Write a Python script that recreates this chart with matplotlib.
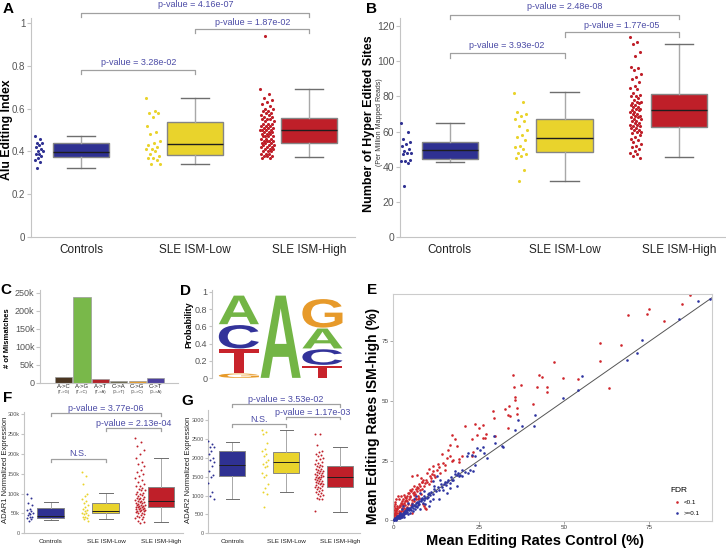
import numpy as np
import matplotlib
matplotlib.use("Agg")
import matplotlib.pyplot as plt
from matplotlib.textpath import TextPath
from matplotlib.patches import PathPatch
from matplotlib.font_manager import FontProperties
from matplotlib.transforms import Affine2D

plt.rcParams['font.family'] = ['Liberation Sans', 'DejaVu Sans']
NARROW = ['Liberation Sans Narrow', 'Liberation Sans', 'DejaVu Sans']

# ---------------- data ----------------
groups = ['Controls', 'SLE ISM-Low', 'SLE ISM-High']

# A: Alu editing index
A_whislo = [0.32, 0.34, 0.373]
A_q1 = [0.373, 0.383, 0.44]
A_med = [0.397, 0.435, 0.50]
A_q3 = [0.44, 0.537, 0.557]
A_whishi = [0.47, 0.65, 0.69]
A_ctrl = [0.47, 0.46, 0.44, 0.44, 0.43, 0.42, 0.41, 0.40, 0.40, 0.39, 0.39, 0.38, 0.37, 0.36, 0.35, 0.32]
A_low = [0.65, 0.59, 0.58, 0.58, 0.56, 0.52, 0.49, 0.48, 0.45, 0.44, 0.43, 0.42, 0.41, 0.41,
         0.40, 0.39, 0.38, 0.37, 0.37, 0.36, 0.34, 0.34]
A_high = [0.69, 0.67, 0.65, 0.64, 0.63, 0.62, 0.61, 0.60, 0.60, 0.59, 0.59, 0.58, 0.58, 0.57,
          0.57, 0.56, 0.56, 0.55, 0.55, 0.55, 0.54, 0.54, 0.53, 0.53, 0.53, 0.52, 0.52, 0.52,
          0.51, 0.51, 0.51, 0.50, 0.50, 0.50, 0.50, 0.49, 0.49, 0.49, 0.48, 0.48, 0.48, 0.47,
          0.47, 0.47, 0.47, 0.46, 0.46, 0.46, 0.45, 0.45, 0.45, 0.45, 0.44, 0.44, 0.44, 0.43,
          0.43, 0.43, 0.42, 0.42, 0.42, 0.41, 0.41, 0.41, 0.40, 0.40, 0.40, 0.39, 0.39, 0.39,
          0.38, 0.38, 0.38, 0.37, 0.37, 0.94]

# B: hyper edited sites
B_whislo = [42.8, 32.0, 45.7]
B_q1 = [44.4, 48.2, 62.7]
B_med = [49.7, 56.3, 72.0]
B_q3 = [54.2, 67.1, 81.3]
B_whishi = [65.0, 82.3, 109.6]
B_ctrl = [65, 60, 56, 54, 53, 52, 50, 49, 48, 48, 47, 44, 43, 43, 42, 29]
B_low = [82, 77, 71, 70, 69, 67, 66, 63, 61, 58, 57, 55, 52, 51, 50, 48, 47, 46, 45, 38, 32]
B_high = [114, 111, 110, 105, 103, 97, 96, 95, 93, 91, 90, 88, 86, 85, 84, 82, 81, 80, 80, 79,
          78, 77, 77, 76, 76, 75, 75, 74, 74, 73, 73, 72, 72, 71, 71, 70, 70, 69, 69, 68, 68,
          67, 67, 66, 66, 65, 65, 64, 64, 63, 63, 62, 62, 61, 61, 60, 60, 59, 58, 57, 56, 55,
          54, 53, 52, 51, 50, 49, 48, 47, 46, 45]

# C: mismatches
mm_labels = ['A->C', 'A->G', 'A->T', 'C->A', 'C->G', 'C->T']
mm_sub = ['(T->G)', '(T->C)', '(T->A)', '(G->T)', '(G->C)', '(G->A)']
mm_counts = [17500, 238000, 10000, 5000, 4500, 13000]
mm_colors = ['#4b3621', '#79b84a', '#b3232a', '#6d6a50', '#e39b2d', '#4c3f9e']

# D: sequence logo (bottom to top)
logo_letters = [['G', 'T', 'C', 'A'], ['A'], ['T', 'C', 'A', 'G']]
logo_heights = [[0.06, 0.28, 0.28, 0.34], [0.96], [0.15, 0.19, 0.24, 0.34]]
logo_colors = {'A': '#73b545', 'C': '#33339a', 'G': '#e79a2a', 'T': '#c8232b'}

# E: mean editing rates per site (control %, ISM-high %)
E_sig = [(86.9, 94.5), (84.5, 90.7), (75.0, 88.5), (74.2, 86.5), (68.8, 86.1), (79.3, 83.8),
         (60.7, 74.3), (66.6, 73.4), (60.7, 66.9), (47.1, 66.3), (35.2, 61.0), (42.7, 61.0),
         (43.5, 59.9), (49.7, 59.6), (54.1, 59.2), (63.3, 55.4), (35.3, 56.1), (37.4, 56.7),
         (42.2, 56.0), (44.9, 56.1), (44.9, 53.7), (35.5, 51.9), (35.6, 50.5), (36.1, 47.0),
         (36.1, 44.4), (41.0, 48.7), (32.7, 46.6), (34.0, 48.0), (29.3, 45.9), (33.7, 44.0),
         (34.2, 43.8), (29.6, 42.9), (33.5, 38.8), (21.0, 39.6), (23.9, 40.5), (26.3, 40.1),
         (25.2, 38.7), (29.8, 35.5), (27.1, 36.3), (26.9, 34.5), (26.2, 34.5), (24.4, 35.6),
         (22.9, 34.1), (17.1, 35.9), (18.1, 34.1), (16.6, 31.4), (18.6, 31.3), (23.4, 28.5),
         (22.9, 26.8), (14.3, 27.9), (15.6, 26.1), (16.6, 26.8), (17.1, 24.7), (17.6, 25.1),
         (19.3, 25.7), (19.3, 24.3), (15.2, 23.2), (11.7, 22.9), (13.5, 22.3), (15.0, 21.2),
         (13.6, 19.8), (12.9, 21.2), (11.7, 20.5), (9.8, 19.8), (10.7, 18.4), (6.8, 19.1),
         (5.6, 18.4), (8.0, 17.6), (8.8, 17.0), (8.3, 15.9), (9.3, 15.6), (7.6, 15.4),
         (10.3, 15.2), (7.3, 13.5), (5.4, 13.1), (5.9, 14.2), (4.4, 11.4), (2.1, 10.3),
         (3.4, 9.8), (4.9, 9.8), (5.9, 10.7), (6.6, 8.7), (7.6, 9.4), (1.5, 8.7), (0.5, 7.0),
         (3.1, 7.3), (5.4, 7.3), (2.0, 5.9), (3.9, 5.6), (1.0, 4.5), (2.9, 3.8), (0.5, 3.1),
         (0.2, 1.7), (1.5, 2.4), (9.3, 5.2), (8.8, 6.6), (5.4, 3.1), (4.4, 4.5), (2.4, 4.5),
         (0.8, 3.8), (0.0, 1.4), (0.3, 2.5), (0.6, 3.5), (1.2, 5.0), (1.8, 6.5), (2.5, 8.0),
         (0.2, 0.8), (0.9, 2.0), (1.5, 3.0), (2.2, 4.0), (3.0, 5.0), (3.5, 6.5), (4.0, 8.0),
         (4.5, 9.0), (5.0, 10.0), (6.0, 12.0), (6.5, 13.0), (7.0, 14.0), (8.5, 16.0),
         (9.5, 17.0), (1.0, 6.0), (0.4, 5.0), (2.6, 7.0), (3.2, 10.5), (4.8, 12.5), (6.2, 9.5),
         (7.8, 12.5), (10.5, 21.5), (12.0, 19.0), (13.0, 23.5), (14.5, 24.0), (16.0, 29.5),
         (20.0, 27.0), (9.0, 6.0), (9.5, 4.8), (1.3, 1.8), (2.0, 2.6), (3.8, 4.6), (5.2, 6.2),
         (0.7, 1.2), (11.0, 16.5), (0.1, 4.2), (0.3, 6.0), (0.6, 7.5), (0.9, 9.0), (1.4, 10.0),
         (1.1, 3.2), (1.7, 4.0), (2.4, 5.3), (2.8, 6.2), (3.3, 7.9), (3.7, 9.2), (4.1, 10.3),
         (4.6, 11.6), (5.1, 12.1), (5.7, 11.3), (6.3, 11.0), (6.9, 12.3), (7.3, 10.2),
         (7.9, 14.5), (8.4, 13.2), (9.1, 14.4), (9.8, 16.0), (10.9, 17.8), (11.4, 19.2),
         (12.3, 18.2), (0.2, 2.0), (0.5, 2.6), (0.8, 4.3), (1.6, 5.5), (2.1, 7.2), (2.7, 9.1),
         (3.6, 8.3), (4.3, 6.9), (5.5, 8.6), (6.1, 7.9), (7.2, 9.0), (8.1, 10.9), (1.0, 1.6),
         (1.9, 3.4), (3.4, 4.1)]
E_ns = [(92.8, 92.7), (89.2, 92.1), (83.8, 84.3), (72.8, 75.7), (71.5, 70.1), (68.4, 67.3),
        (55.2, 60.6), (54.1, 54.7), (49.7, 51.2), (41.5, 44.2), (41.1, 39.4), (37.8, 39.4),
        (35.6, 37.7), (36.6, 42.2), (31.7, 31.3), (32.2, 30.7), (29.8, 32.4), (29.5, 35.5),
        (27.3, 26.1), (26.4, 30.7), (25.4, 29.6), (24.4, 30.3), (22.9, 27.5), (21.9, 28.2),
        (21.5, 26.8), (23.9, 27.1), (26.6, 28.2), (22.5, 20.9), (22.0, 19.8), (23.4, 20.5),
        (18.7, 19.1), (18.1, 20.5), (19.1, 18.4), (20.0, 18.4), (17.1, 17.0), (18.7, 14.5),
        (16.6, 13.5), (15.6, 15.9), (14.8, 15.4), (13.7, 17.0), (12.7, 18.4), (11.7, 16.3),
        (12.0, 14.5), (13.5, 8.7), (11.7, 8.7), (10.5, 11.4), (9.8, 9.4), (9.0, 12.1),
        (7.8, 11.4), (8.3, 8.7), (7.3, 7.3), (6.6, 10.1), (5.9, 8.7), (5.4, 6.6), (4.4, 7.3),
        (3.9, 5.2), (2.9, 5.9), (3.4, 3.8), (2.0, 3.1), (2.4, 4.5), (1.5, 2.4), (1.0, 1.4),
        (0.5, 1.0), (1.8, 1.4), (2.7, 2.0), (4.9, 3.1), (6.3, 4.5), (7.8, 4.5), (9.3, 6.6),
        (10.7, 8.0), (10.3, 5.9), (14.6, 12.8), (15.6, 11.4), (0.2, 0.2), (0.4, 0.6),
        (0.7, 0.5), (1.0, 1.2), (1.3, 1.0), (1.6, 1.8), (2.0, 2.2), (2.3, 1.9), (2.7, 3.0),
        (3.1, 2.8), (3.5, 3.8), (4.0, 4.2), (4.5, 5.0), (5.0, 4.8), (5.5, 6.0), (6.0, 6.5),
        (6.5, 6.0), (7.0, 7.5), (7.5, 8.0), (8.0, 8.8), (8.5, 9.5), (9.0, 10.0), (10.0, 11.0),
        (11.0, 12.0), (12.0, 13.0), (13.0, 14.0), (14.0, 15.0), (15.0, 16.0), (16.0, 17.0),
        (17.0, 18.0), (18.0, 19.5), (19.0, 20.0), (20.0, 21.0), (3.0, 1.5), (4.2, 2.5),
        (5.8, 3.9), (6.8, 5.5), (8.6, 7.2), (0.9, 0.3), (1.9, 0.8), (2.5, 1.2), (0.1, 0.4),
        (0.3, 0.1), (0.6, 0.9), (0.8, 0.7), (1.1, 0.8), (1.2, 1.6), (1.4, 1.3), (1.7, 1.1),
        (1.8, 2.3), (2.1, 1.5), (2.2, 2.8), (2.5, 2.4), (2.9, 2.3), (3.0, 3.4), (3.3, 3.1),
        (3.6, 2.9), (3.8, 4.4), (4.1, 3.6), (4.3, 4.9), (4.7, 4.2), (5.1, 5.5), (5.3, 4.4),
        (5.7, 5.3), (6.2, 5.9), (6.6, 7.1), (7.1, 6.4), (7.6, 7.0), (8.2, 7.9), (8.9, 8.6),
        (9.4, 9.2), (10.2, 9.8), (10.8, 10.4), (11.5, 11.0), (12.5, 12.2), (13.4, 12.8),
        (14.3, 14.1), (15.3, 14.6), (16.5, 15.8), (17.6, 16.9), (19.5, 18.8), (21.0, 20.2),
        (24.0, 23.0)]

# F: ADAR1 expression
F_whislo = [33500, 36000, 27700]
F_q1 = [38600, 50300, 65400]
F_med = [44400, 56200, 81300]
F_q3 = [62900, 75400, 115700]
F_whishi = [78000, 100600, 190000]
F_ctrl = [100000, 90000, 75000, 70000, 62000, 58000, 55000, 52000, 50000, 48000, 45000,
          42000, 40000, 38000, 35000, 32000]
F_low = [155000, 145000, 125000, 100000, 95000, 85000, 80000, 75000, 70000, 65000, 60000,
         58000, 55000, 52000, 50000, 48000, 45000, 42000, 40000, 38000, 35000, 30000]
F_high = [240000, 230000, 220000, 210000, 200000, 190000, 180000, 175000, 170000, 160000,
          155000, 150000, 145000, 140000, 135000, 130000, 125000, 120000, 118000, 115000,
          112000, 110000, 108000, 105000, 102000, 100000, 98000, 96000, 94000, 92000, 90000,
          88000, 86000, 85000, 84000, 82000, 80000, 79000, 78000, 76000, 75000, 74000, 72000,
          71000, 70000, 69000, 68000, 67000, 66000, 65000, 64000, 63000, 62000, 61000, 60000,
          59000, 58000, 57000, 56000, 55000, 54000, 52000, 50000, 48000, 46000, 44000, 42000,
          40000, 38000, 35000, 32000, 28000, 25000]

# G: ADAR2 expression
G_whislo = [905, 1110, 577]
G_q1 = [1527, 1598, 1243]
G_med = [1811, 1908, 1509]
G_q3 = [2192, 2166, 1793]
G_whishi = [2441, 2734, 2308]
G_ctrl = [2450, 2380, 2300, 2300, 2200, 2100, 2000, 1950, 1900, 1800, 1650, 1550, 1500,
          1350, 1100, 1000, 900]
G_low = [2750, 2700, 2650, 2400, 2250, 2200, 2100, 2050, 1950, 1900, 1850, 1800, 1750, 1600,
         1550, 1500, 1300, 1200, 1100, 1050, 700]
G_high = [2650, 2630, 2350, 2200, 2150, 2100, 2080, 2050, 2000, 1980, 1950, 1900, 1880, 1850,
          1820, 1800, 1780, 1750, 1720, 1700, 1680, 1660, 1650, 1630, 1610, 1600, 1580, 1560,
          1550, 1530, 1510, 1500, 1490, 1470, 1450, 1440, 1420, 1400, 1390, 1370, 1350, 1330,
          1310, 1300, 1280, 1260, 1240, 1220, 1200, 1180, 1150, 1120, 1100, 1080, 1050, 1020,
          1000, 950, 920, 900, 600]

# ---------------- style ----------------
BLUE = '#2f3192'
YELLOW = '#e9d32c'
RED = '#bf1f29'
group_colors = [BLUE, YELLOW, RED]
PV = '#4b4ba6'
BRK = '#a0a0a0'
TICK = '#555555'
SPINE = '#c4c4c4'

W, H = 726, 550
fig = plt.figure(figsize=(W / 100, H / 100), dpi=100)


def px_axes(l, t, r, b):
    return fig.add_axes([l / W, 1 - b / H, (r - l) / W, (b - t) / H])


def style_axes(ax, fs):
    for s in ['top', 'right']:
        ax.spines[s].set_visible(False)
    for s in ['left', 'bottom']:
        ax.spines[s].set_color(SPINE)
    ax.tick_params(axis='y', colors=SPINE, labelcolor=TICK, labelsize=fs, length=3, width=0.8, pad=1)
    ax.tick_params(axis='x', length=0, labelcolor='#222222')
    for t in ax.get_yticklabels():
        t.set_family(NARROW)


def box_panel(ax, lo, q1, med, q3, hi, pts, offset, spread, box_w, s, lw):
    for i in range(3):
        st = dict(whislo=lo[i], q1=q1[i], med=med[i], q3=q3[i], whishi=hi[i], fliers=[])
        c = group_colors[i]
        ax.bxp([st], positions=[i], widths=box_w, patch_artist=True, showfliers=False,
               boxprops=dict(facecolor=c, edgecolor='#858585', linewidth=lw),
               medianprops=dict(color='#1e1e1e', linewidth=lw),
               whiskerprops=dict(color='#a8a8a8', linewidth=lw),
               capprops=dict(color='#6e6e6e', linewidth=lw))
        p = np.asarray(pts[i])
        jit = ((np.arange(len(p)) * 0.6180339) % 1 - 0.5) * 2 * spread[i]
        ax.scatter(i + offset + jit, p, s=s, color=c, linewidths=0, zorder=3)
    ax.set_xticks(range(3))
    ax.set_xticklabels(groups)


def bracket(ax, x1, x2, y, drop, label, ty, fs):
    ax.plot([x1, x1, x2, x2], [y - drop, y, y, y - drop], color=BRK, lw=0.9, clip_on=False)
    ax.text((x1 + x2) / 2, ty, label, ha='center', va='center', color=PV, fontsize=fs, clip_on=False)


def panel_label(x, y, s):
    fig.text(x / W, 1 - y / H, s, fontsize=11, fontweight='bold', ha='left', va='center')


def vlabel(x, y, s, fs, **kw):
    fig.text(x / W, 1 - y / H, s, rotation=90, fontsize=fs, ha='center', va='center', **kw)


# ---------------- A ----------------
axA = px_axes(31, 18, 355, 237)
box_panel(axA, A_whislo, A_q1, A_med, A_q3, A_whishi, [A_ctrl, A_low, A_high],
          -0.37, [0.035, 0.065, 0.06], 0.49, 5, 1.0)
axA.set_xlim(-0.44, 2.40)
axA.set_ylim(0, 1.023)
axA.set_yticks([0, 0.2, 0.4, 0.6, 0.8, 1])
axA.set_yticklabels(['0', '0.2', '0.4', '0.6', '0.8', '1'])
style_axes(axA, 7)
axA.tick_params(axis='x', pad=5, labelsize=8.5)
bracket(axA, 0, 2, 1.047, 0.02, 'p-value = 4.16e-07', 1.087, 6.5)
bracket(axA, 1, 2, 0.972, 0.02, 'p-value = 1.87e-02', 1.003, 6.5)
bracket(axA, 0, 1, 0.78, 0.02, 'p-value = 3.28e-02', 0.815, 6.5)
vlabel(7, 130, 'Alu Editing Index', 8.8, fontweight='bold')
panel_label(3, 9, 'A')

# ---------------- B ----------------
axB = px_axes(400, 18, 725, 237)
box_panel(axB, B_whislo, B_q1, B_med, B_q3, B_whishi, [B_ctrl, B_low, B_high],
          -0.38, [0.05, 0.06, 0.05], 0.49, 5, 1.0)
axB.set_xlim(-0.435, 2.40)
axB.set_ylim(0, 124.6)
axB.set_yticks(range(0, 121, 20))
style_axes(axB, 7.5)
axB.tick_params(axis='x', pad=5, labelsize=8.5)
bracket(axB, 0, 2, 126.3, 2.5, 'p-value = 2.48e-08', 131, 6.5)
bracket(axB, 1, 2, 116.4, 2.5, 'p-value = 1.77e-05', 120.6, 6.5)
bracket(axB, 0, 1, 104.5, 2.5, 'p-value = 3.93e-02', 109, 6.5)
vlabel(369, 124, 'Number of Hyper Edited Sites', 9, fontweight='bold')
vlabel(380, 122, '(Per Million Mapped Reads)', 5, color='#333333')
panel_label(366, 9, 'B')

# ---------------- C ----------------
axC = px_axes(40, 290, 178, 383)
xc = np.arange(len(mm_counts))
axC.bar(xc, mm_counts, width=0.94, color=mm_colors, edgecolor='#9a9a9a', linewidth=0.5)
axC.set_xlim(-1.28, 6.22)
axC.set_ylim(0, 258000)
axC.set_yticks(range(0, 250001, 50000))
axC.set_yticklabels(['0', '50k', '100k', '150k', '200k', '250k'])
axC.set_xticks(xc)
axC.set_xticklabels(mm_labels)
style_axes(axC, 6.5)
axC.tick_params(axis='x', pad=1, labelsize=4.3)
for i, s in enumerate(mm_sub):
    axC.text(i, -0.095, s, transform=axC.get_xaxis_transform(), fontsize=3, ha='center',
             va='center', color='#333333')
vlabel(8, 338, '# of Mismatches', 5.5, fontweight='bold')
panel_label(0, 290, 'C')

# ---------------- D ----------------
axD = px_axes(212, 290, 345, 378.3)
logo_fp = FontProperties(family='Liberation Sans', weight='bold')


def draw_letter(ax, ch, x0, y0, w, h, color):
    tp = TextPath((0, 0), ch, size=1, prop=logo_fp)
    bb = tp.get_extents()
    tr = Affine2D().translate(-bb.x0, -bb.y0).scale(w / bb.width, h / bb.height).translate(x0, y0)
    ax.add_patch(PathPatch(tr.transform_path(tp), facecolor=color, edgecolor='none'))


for pos, (letters, heights) in enumerate(zip(logo_letters, logo_heights), start=1):
    base = 0.0
    for ch, h in zip(letters, heights):
        draw_letter(axD, ch, pos - 0.48, base + 0.005, 0.96, h - 0.01, logo_colors[ch])
        base += h
axD.set_xlim(0.357, 3.54)
axD.set_ylim(0, 1.02)
for s in ['top', 'right', 'bottom']:
    axD.spines[s].set_visible(False)
axD.spines['left'].set_color(SPINE)
axD.set_xticks([])
axD.set_yticks([0, 0.2, 0.4, 0.6, 0.8, 1])
axD.set_yticklabels(['0', '0.2', '0.4', '0.6', '0.8', '1'])
axD.tick_params(axis='y', colors=SPINE, labelcolor=TICK, labelsize=6.5, length=2.5, pad=1)
for t in axD.get_yticklabels():
    t.set_family(NARROW)
vlabel(189, 325, 'Probability', 6.5, fontweight='bold')
panel_label(180, 291, 'D')

# ---------------- E ----------------
axE = px_axes(392.7, 294.3, 711.7, 520.7)
sx, sy = np.array(E_sig).T
nx, ny = np.array(E_ns).T
axE.axline((0, 0), slope=1, color='#555555', lw=0.7, zorder=1)
axE.scatter(sx, sy, s=3.5, color='#d0262c', linewidths=0, zorder=2, label='<0.1')
axE.scatter(nx, ny, s=3.5, color='#2e34a0', linewidths=0, zorder=3, label='>=0.1')
axE.set_xlim(-0.2, 93.3)
axE.set_ylim(-0.2, 94.8)
axE.set_xticks([0, 25, 50, 75])
axE.set_yticks([0, 25, 50, 75])
for s in axE.spines.values():
    s.set_color('#cccccc')
    s.set_linewidth(0.8)
axE.tick_params(colors='#888888', labelcolor='#444444', labelsize=4.5, length=2, width=0.5, pad=1)
leg = axE.legend(title='FDR', loc='lower left', bbox_to_anchor=(0.855, 0.0), fontsize=4.5,
                 title_fontsize=6, frameon=False, handletextpad=0.1, markerscale=1.0,
                 borderpad=0.3, labelspacing=0.9)
leg._legend_box.align = 'left'
vlabel(373, 416, 'Mean Editing Rates ISM-high (%)', 10, fontweight='bold')
fig.text(535 / W, 1 - 541 / H, 'Mean Editing Rates Control (%)', fontsize=10.5,
         fontweight='bold', ha='center', va='center')
panel_label(367, 290, 'E')

# ---------------- F ----------------
axF = px_axes(24, 412, 183, 533.3)
box_panel(axF, F_whislo, F_q1, F_med, F_q3, F_whishi, [F_ctrl, F_low, F_high],
          -0.38, [0.06, 0.06, 0.09], 0.49, 2, 0.7)
axF.set_xlim(-0.49, 2.40)
axF.set_ylim(0, 305000)
axF.set_yticks(range(0, 300001, 50000))
axF.set_yticklabels(['0', '50k', '100k', '150k', '200k', '250k', '300k'])
style_axes(axF, 4)
axF.tick_params(axis='y', length=2)
axF.tick_params(axis='x', labelsize=4.6, pad=4)
bracket(axF, 0, 2, 301800, 6000, 'p-value = 3.77e-06', 314000, 6.5)
bracket(axF, 1, 2, 264000, 6000, 'p-value = 2.13e-04', 277000, 6.5)
bracket(axF, 0, 1, 186000, 6000, 'N.S.', 201000, 6.5)
vlabel(5.5, 470, 'ADAR1 Normalized Expression', 5.5, color='#222222')
panel_label(3, 398, 'F')

# ---------------- G ----------------
axG = px_axes(208, 410, 360, 533.3)
box_panel(axG, G_whislo, G_q1, G_med, G_q3, G_whishi, [G_ctrl, G_low, G_high],
          -0.39, [0.06, 0.06, 0.08], 0.49, 2, 0.7)
axG.set_xlim(-0.45, 2.37)
axG.set_ylim(0, 3279)
axG.set_yticks(range(0, 3001, 500))
style_axes(axG, 4)
axG.tick_params(axis='y', length=2)
axG.tick_params(axis='x', labelsize=4.6, pad=4)
bracket(axG, 0, 2, 3439, 70, 'p-value = 3.53e-02', 3570, 6.5)
bracket(axG, 1, 2, 3101, 70, 'p-value = 1.17e-03', 3222, 6.5)
bracket(axG, 0, 1, 2899, 70, 'N.S.', 3018, 6.5)
vlabel(188, 470, 'ADAR2 Normalized Expression', 5.5, color='#222222')
panel_label(181, 401, 'G')

fig.savefig('out.png', dpi=100)
